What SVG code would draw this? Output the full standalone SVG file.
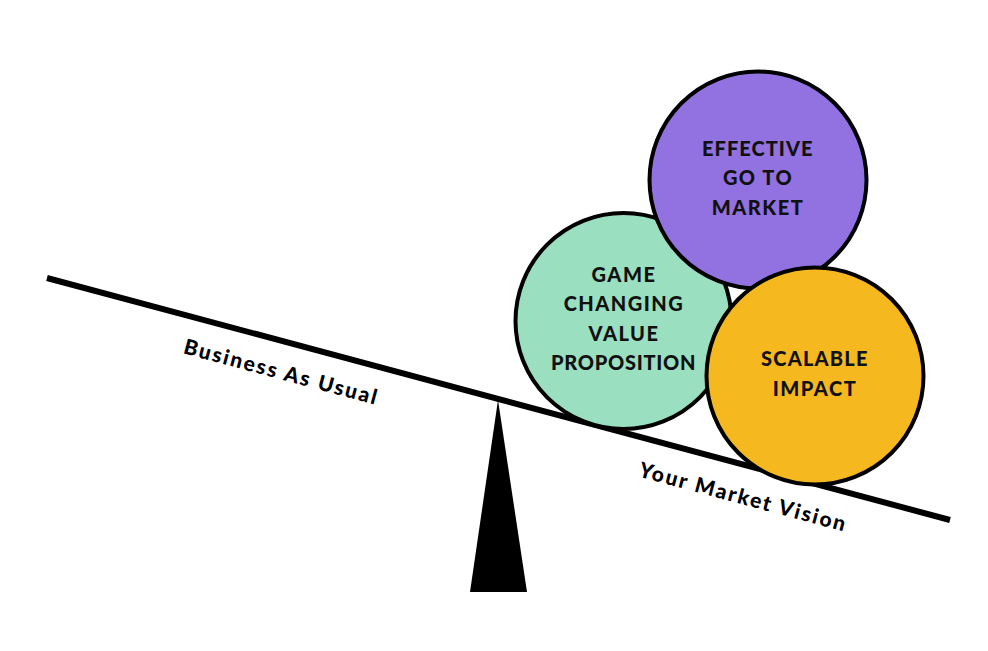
<svg xmlns="http://www.w3.org/2000/svg" width="988" height="651" viewBox="0 0 988 651">
<style>
.c{stroke:#000;stroke-width:4}
.t{font-family:Lato,"Open Sans",sans-serif;font-weight:900;font-size:20px;fill:#111;text-anchor:middle;letter-spacing:1.5px}
.l{font-family:Lato,"Open Sans",sans-serif;font-weight:900;font-size:21px;fill:#000;text-anchor:middle;letter-spacing:1px}
</style>
<rect width="988" height="651" fill="#fff"/>
<g id="connectors">
<line x1="47" y1="278" x2="950" y2="520" stroke="#000" stroke-width="6"/>
<polygon points="498,400 527,592 470,592" fill="#000"/>
<text class="l" transform="translate(279,379) rotate(15)" textLength="200" lengthAdjust="spacing">Business As Usual</text>
<text class="l" transform="translate(741,504) rotate(15)" textLength="214" lengthAdjust="spacing">Your Market Vision</text>
</g>
<g id="node-green">
<circle class="c" cx="623.5" cy="321" r="108" fill="#9ADFBF"/>
<text class="t" x="624" y="282">GAME</text>
<text class="t" x="624" y="311">CHANGING</text>
<text class="t" x="624" y="341">VALUE</text>
<text class="t" x="624" y="370" textLength="146" lengthAdjust="spacing">PROPOSITION</text>
</g>
<g id="node-purple">
<circle class="c" cx="758" cy="180" r="108.5" fill="#9172E0"/>
<text class="t" x="758" y="156" textLength="112" lengthAdjust="spacing">EFFECTIVE</text>
<text class="t" x="758" y="185">GO TO</text>
<text class="t" x="758" y="215">MARKET</text>
</g>
<g id="node-yellow">
<circle class="c" cx="815" cy="376" r="108.5" fill="#F5B91F"/>
<text class="t" x="815" y="366" textLength="108" lengthAdjust="spacing">SCALABLE</text>
<text class="t" x="815" y="396">IMPACT</text>
</g>
</svg>
